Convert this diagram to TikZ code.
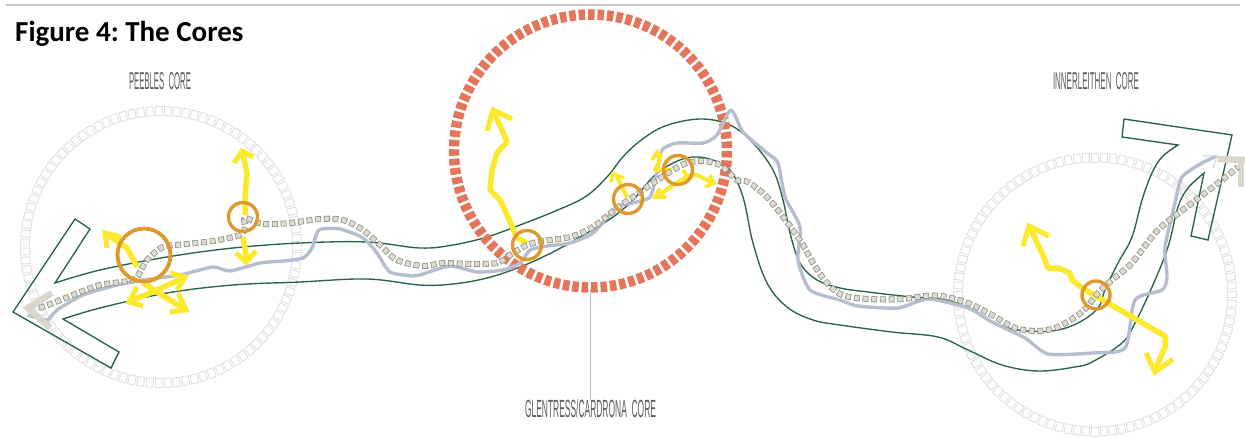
\documentclass[tikz,border=0pt]{standalone}
\usepackage{fontspec}
\usepackage{graphicx}
\setmainfont{Carlito}
\setsansfont{Liberation Sans}
\frenchspacing
\definecolor{ringgray}{HTML}{DFDFDF}
\definecolor{coral}{HTML}{E4755B}
\definecolor{routefill}{HTML}{DEDCD2}
\definecolor{routeline}{HTML}{94948A}
\definecolor{capfill}{HTML}{D9D7CC}
\definecolor{trailblue}{HTML}{B6BDCE}
\definecolor{valleygreen}{HTML}{2A6446}
\definecolor{sunyellow}{HTML}{FDE92B}
\definecolor{coreorange}{HTML}{DF982C}
\definecolor{labelgray}{HTML}{5E5E5E}
\tikzset{
  ringsq/.style={draw=ringgray,line width=.9pt},
  valley/.style={draw=valleygreen,line width=1.35pt,line join=miter},
  trail/.style={draw=trailblue,line width=3.4pt,line join=round},
  yarrow/.style={draw=sunyellow,line width=5.5pt,line join=round},
  yhead/.style={draw=sunyellow,line width=5pt,line join=miter},
  yarrowsm/.style={draw=sunyellow,line width=4.2pt,line join=round},
  yheadsm/.style={draw=sunyellow,line width=3.6pt,line join=miter},
  corering/.style={draw=coreorange,line width=3.4pt},
  capshape/.style={draw=capfill,line width=6.5pt},
  corelabel/.style={text=labelgray,inner sep=0pt},
  routeouter/.style={draw=routeline,line width=6pt,dash pattern=on 6pt off 2.7pt},
  routeinner/.style={draw=routefill,line width=4.4pt,dash pattern=on 4.4pt off 4.3pt,dash phase=7.9pt}
}
\newcommand{\squarering}[4]{%
  \foreach \ii in {1,...,#4}{%
    \pgfmathsetmacro{\ringang}{\ii/#4*360}%
    \draw[ringsq,shift={(#1,#2)},rotate=\ringang] (#3-4.5,-3.4) rectangle (#3+4.5,3.4);}}
\newcommand{\routecoords}{(39,308) (48,305) (78,293) (100,285) (133,280) (140,272) (147,260) (163,247) (187,244) (213,241) (240,235) (245,227) (245,218) (263,224) (290,223) (320,219) (343,220) (363,230) (380,245) (397,260) (423,266) (443,263) (470,264) (497,263) (510,255) (527,245) (543,241) (570,237) (593,227) (617,208) (633,197) (653,183) (673,170) (687,163) (703,161) (720,165) (737,180) (748,182) (767,197) (787,222) (803,245) (813,263) (827,283) (842,295) (868,299) (902,299) (925,296) (942,296) (968,303) (992,315) (1015,328) (1038,331) (1058,327) (1082,312) (1098,293) (1112,280) (1132,263) (1158,230) (1192,203) (1222,180) (1238,167)}
\begin{document}
\begin{tikzpicture}[x=1pt,y=-1pt]
\path[use as bounding box,fill=white] (0,0) rectangle (1245,439);
% top rule
\draw[draw=black!22,line width=1.2pt] (6,5) -- (1240,5);
% title and labels
\node[anchor=base west,inner sep=0pt,font=\bfseries\fontsize{29}{32}\selectfont] (title) at (15,41.5) {Figure 4: The Cores};
\node[corelabel] (peebles) at (160,81) {\resizebox{62pt}{17pt}{\sffamily PEEBLES\ \ CORE}};
\node[corelabel] (inner) at (1096,81) {\resizebox{86pt}{17pt}{\sffamily INNERLEITHEN\ \ CORE}};
\node[corelabel] (glen) at (590.5,409) {\resizebox{131pt}{18pt}{\sffamily GLENTRESS/CARDRONA\ \ CORE}};
% grey rings
\squarering{161}{247}{136}{95}
\squarering{1095}{294.5}{137}{96}
% green double-headed arrow
\draw[valley] (13,312) -- (75,219) -- (90,229) -- (55,283)
 -- plot[smooth,tension=.6] coordinates {(55,283) (100,270) (167,257) (233,248) (300,243) (367,242) (420,248) (453,245) (487,237) (520,225) (553,212) (585,197) (607,177) (622,158) (640,141) (665,126) (700,119) (730,125) (753,143) (773,170) (783,200) (790,233) (800,263) (817,280) (840,288) (868,292) (912,297) (942,299) (968,308) (992,322) (1018,330) (1052,331) (1078,323) (1098,308) (1105,290) (1118,263) (1132,237) (1142,200) (1152,173) (1162,157) (1178,145)}
 -- (1122,137) -- (1124,119) -- (1232,135) -- (1208,240) -- (1191,236) -- (1204,173)
 -- plot[smooth,tension=.6] coordinates {(1204,173) (1188,188) (1178,207) (1168,247) (1152,287) (1135,323) (1122,343) (1092,362) (1075,367) (1038,371) (1002,365) (968,350) (938,337) (892,332) (840,325) (813,320) (787,307) (767,283) (753,243) (743,197) (730,170) (713,160) (693,157) (673,163) (653,177) (633,200) (613,217) (587,233) (553,252) (520,267) (487,278) (453,284) (420,285) (367,279) (300,282) (233,285) (167,293) (100,308) (63,319)}
 -- (119,352) -- (111,368) -- cycle;
% coral ring
\draw[draw=coral,line width=10.5pt,dash pattern=on 6.5pt off 2.925pt] (590.5,151) circle[radius=136.5];
% blue trail
\draw[trail] plot[smooth,tension=.4] coordinates {(28,315) (47,320) (57,310) (83,295) (117,285) (143,280) (180,275) (213,267) (230,271) (260,263) (283,261) (303,258) (312,248) (319,230) (340,229) (363,238) (377,253) (390,272) (413,276) (420,275) (450,266) (477,272) (503,270) (520,263) (530,250) (547,246) (570,243) (593,233) (617,207) (633,203) (650,197) (657,173) (662,150) (677,143) (703,143) (717,135) (731,110) (743,132) (767,153) (778,163) (785,197) (800,227) (798,260) (810,290) (840,300) (858,306) (898,308) (928,299) (968,308) (992,322) (1025,338) (1048,354) (1092,353) (1125,348) (1135,300) (1162,290) (1167,277) (1165,247) (1175,203) (1182,177) (1202,163) (1217,156)};
\draw[draw=trailblue!60,line width=1.2pt] (1203,156) -- (1217,156) -- (1213,168);
% yellow arrows, Peebles
\draw[yarrow] (245,215) -- (245,197) -- (247,173) -- (243,155);
\draw[yhead] (234,163) -- (242,151) -- (253,157);
\draw[yarrow] (243,237) -- (247,260);
\draw[yhead] (236,253) -- (246,262) -- (256,251);
\draw[yarrow] (137,267) -- (127,248) -- (108,235);
\draw[yhead] (107,248) -- (105,233) -- (121,237);
\draw[yarrow] (143,283) -- (184,309);
\draw[yhead] (170,312) -- (186,310) -- (178,293);
\draw[yarrow] (131,301) -- (157,290) -- (183,278);
\draw[yhead] (170,273) -- (185,277) -- (177,290);
\draw[yhead] (143,306) -- (129,302) -- (137,287);
% yellow arrows, Glentress
\draw[yarrow] (527,243) -- (517,238) -- (508,217) -- (500,200) -- (490,190) -- (492,170) -- (497,153) -- (507,142) -- (502,130) -- (494,113);
\draw[yhead] (487,131) -- (493,110) -- (512,119);
\draw[yarrowsm] (627,197) -- (617,177);
\draw[yheadsm] (611,182) -- (613,174) -- (624,178);
\draw[yarrowsm] (672,170) -- (655,170) -- (660,160) -- (657,153);
\draw[yheadsm] (652,160) -- (657,152) -- (662,157);
\draw[yarrowsm] (683,170) -- (687,176) -- (697,175) -- (713,183);
\draw[yheadsm] (710,175) -- (714,183) -- (705,187);
\draw[yarrowsm] (687,177) -- (673,185) -- (657,197);
\draw[yheadsm] (666,197) -- (655,197) -- (660,188);
% yellow arrows, Innerleithen
\draw[yarrow] (1082,288) -- (1165,336) -- (1165,347) -- (1155,370);
\draw[yhead] (1146,353) -- (1155,372) -- (1173,359);
\draw[yarrow] (1082,288) -- (1072,280) -- (1070,273) -- (1058,268) -- (1048,268) -- (1042,253) -- (1030,228);
\draw[yhead] (1023,246) -- (1029,226) -- (1049,236);
% end caps
\draw[capshape] (52,293) -- (28,308) -- (50,328);
\draw[capshape] (1218,159) -- (1245,160);
\draw[capshape] (1241,160) -- (1241,187);
% dotted route
\draw[routeouter] plot[smooth,tension=.5] coordinates {\routecoords};
\draw[routeinner] plot[smooth,tension=.5] coordinates {\routecoords};
% core circles
\draw[corering,line width=3.8pt] (144,255) circle[radius=26.5];
\draw[corering] (243,217) circle[radius=14.5];
\draw[corering] (527,245) circle[radius=14.5];
\draw[corering] (628,199) circle[radius=14.5];
\draw[corering] (678,170) circle[radius=14.5];
\draw[corering] (1096,295) circle[radius=14];
% leader
\coordinate (ringbottom) at (590.5,289);
\draw[draw=black!25,line width=1.2pt] (ringbottom) -- (glen.north);
\end{tikzpicture}
\end{document}
